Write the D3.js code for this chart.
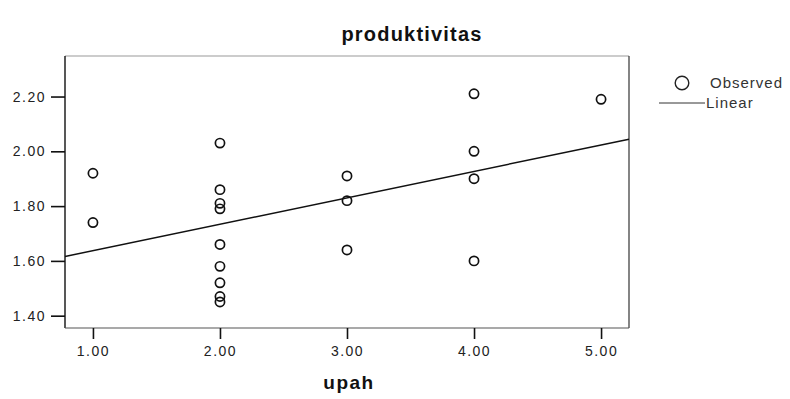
<!DOCTYPE html>
<html>
<head>
<meta charset="utf-8">
<script src="https://cdn.jsdelivr.net/npm/d3@7"></script>
<style>
  body { margin: 0; background: #fff; }
  text { font-family: "Liberation Sans", Arial, sans-serif; }
</style>
</head>
<body>
<div id="chart"></div>
<script>
// observed points
var upah = [1, 1, 2, 2, 2, 2, 2, 2, 2, 2, 2, 3, 3, 3, 4, 4, 4, 4, 5];
var produktivitas = [1.92, 1.74, 2.03, 1.86, 1.81, 1.79, 1.66, 1.58, 1.52, 1.47, 1.45,
                     1.91, 1.82, 1.64, 2.21, 2.00, 1.90, 1.60, 2.19];
var xTicks = [1, 2, 3, 4, 5];
var yTicks = [1.40, 1.60, 1.80, 2.00, 2.20];
var legendLabels = ["Observed", "Linear"];

var width = 790,
    height = 399;

// plot frame (note: "top" is taken by window.top, so prefix these)
var plotLeft = 65, plotRight = 629, plotTop = 56, plotBottom = 328;

var svg = d3.select("#chart").append("svg")
    .attr("width", width)
    .attr("height", height);

var x = d3.scaleLinear()
    .domain([0.78, 5.22])
    .range([plotLeft, plotRight]);

var y = d3.scaleLinear()
    .domain([1.355, 2.348])
    .range([plotBottom, plotTop]);

// linear fit (least squares) of the observed points
var mx = d3.mean(upah), my = d3.mean(produktivitas);
var sxy = d3.sum(upah, function(d, i) { return (d - mx) * (produktivitas[i] - my); });
var sxx = d3.sum(upah, function(d) { return (d - mx) * (d - mx); });
var slope = sxy / sxx,
    intercept = my - slope * mx;

// frame: the scanned top edge is faint, the others dark
var frame = svg.append("g");
frame.append("line")
    .attr("x1", plotLeft).attr("x2", plotRight)
    .attr("y1", plotTop).attr("y2", plotTop)
    .attr("stroke", "#999").attr("stroke-width", 1.2);
frame.append("line")
    .attr("x1", plotRight).attr("x2", plotRight)
    .attr("y1", plotTop).attr("y2", plotBottom)
    .attr("stroke", "#333").attr("stroke-width", 1.2);
frame.append("line")
    .attr("x1", plotLeft).attr("x2", plotLeft)
    .attr("y1", plotTop).attr("y2", plotBottom)
    .attr("stroke", "#111").attr("stroke-width", 1.4);
frame.append("line")
    .attr("x1", plotLeft).attr("x2", plotRight)
    .attr("y1", plotBottom).attr("y2", plotBottom)
    .attr("stroke", "#555").attr("stroke-width", 1.2);

var yAxis = svg.append("g")
    .attr("transform", "translate(" + plotLeft + ",0)")
    .call(d3.axisLeft(y).tickValues(yTicks).tickFormat(d3.format(".2f"))
      .tickSize(14).tickPadding(5));

var xAxis = svg.append("g")
    .attr("transform", "translate(0," + plotBottom + ")")
    .call(d3.axisBottom(x).tickValues(xTicks).tickFormat(d3.format(".2f"))
      .tickSize(11).tickPadding(7));

[xAxis, yAxis].forEach(function(g) {
  g.select(".domain").remove();
  g.selectAll(".tick line").attr("stroke", "#111").attr("stroke-width", 1.6);
  g.selectAll(".tick text")
    .attr("fill", "#222")
    .style("font-size", "14px")
    .style("letter-spacing", "1.5px");
});

// regression line
var xd = x.domain();
svg.append("line")
    .attr("x1", x(xd[0]))
    .attr("y1", y(intercept + slope * xd[0]))
    .attr("x2", x(xd[1]))
    .attr("y2", y(intercept + slope * xd[1]))
    .attr("stroke", "#111")
    .attr("stroke-width", 1.5);

// observed circles
svg.selectAll("circle.obs")
    .data(upah)
  .enter().append("circle")
    .attr("class", "obs")
    .attr("cx", function(d) { return x(d); })
    .attr("cy", function(d, i) { return y(produktivitas[i]); })
    .attr("r", 4.6)
    .attr("fill", "none")
    .attr("stroke", "#111")
    .attr("stroke-width", 1.7);

// titles
svg.append("text")
    .attr("x", 412)
    .attr("y", 41)
    .attr("text-anchor", "middle")
    .style("font-size", "20px")
    .style("font-weight", "bold")
    .style("letter-spacing", "1.2px")
    .attr("fill", "#111")
    .text("produktivitas");

svg.append("text")
    .attr("x", (plotLeft + plotRight) / 2 + 2)
    .attr("y", 389)
    .attr("text-anchor", "middle")
    .style("font-size", "19px")
    .style("font-weight", "bold")
    .style("letter-spacing", "1.5px")
    .attr("fill", "#111")
    .text("upah");

// legend
var legend = svg.append("g");
legend.append("circle")
    .attr("cx", 682)
    .attr("cy", 83)
    .attr("r", 6.8)
    .attr("fill", "none")
    .attr("stroke", "#222")
    .attr("stroke-width", 1.4);
legend.append("line")
    .attr("x1", 659).attr("x2", 705)
    .attr("y1", 103).attr("y2", 103)
    .attr("stroke", "#333")
    .attr("stroke-width", 1);
legend.selectAll("text")
    .data(legendLabels)
  .enter().append("text")
    .attr("x", function(d, i) { return i ? 706 : 710; })
    .attr("y", function(d, i) { return i ? 103 : 83; })
    .attr("dy", "0.35em")
    .style("font-size", "15px")
    .style("letter-spacing", "1px")
    .attr("fill", "#333")
    .text(function(d) { return d; });
</script>
</body>
</html>
